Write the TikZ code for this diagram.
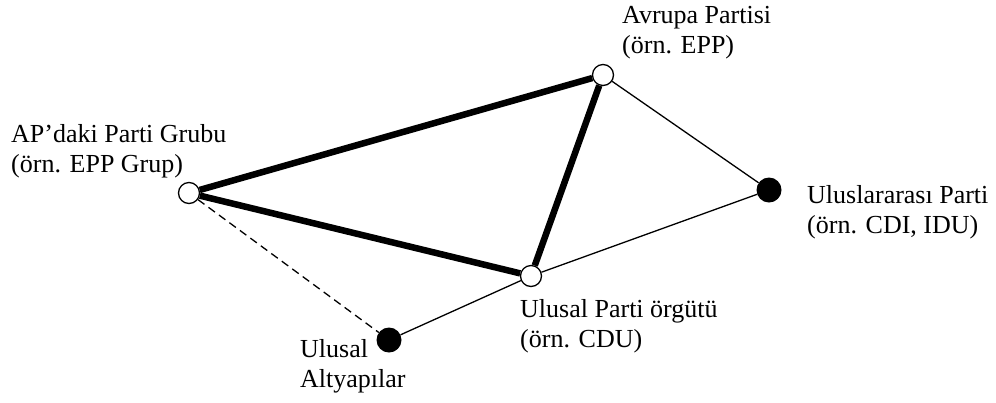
\documentclass[tikz,border=0pt]{standalone}
\usepackage{fontspec}
\setmainfont{Liberation Serif}
\usepackage{xcolor}

\begin{document}
\begin{tikzpicture}[x=1bp,y=-1bp,
  open/.style={circle,draw,fill=white,line width=1.3bp,minimum size=21bp,inner sep=0pt},
  full/.style={circle,fill=black,minimum size=25bp,inner sep=0pt},
  txt/.style={anchor=base west,align=left,inner sep=0pt,font=\fontsize{26bp}{30bp}\selectfont},
  strong/.style={line width=6.5bp},
  weak/.style={line width=1.3bp}]
\useasboundingbox (0,0) rectangle (996,402);

\node[open] (ep) at (603,75) {};
\node[open] (apg) at (189,193) {};
\node[full] (intl) at (769,190) {};
\node[open] (nat) at (531,276) {};
\node[full] (sub) at (389,340) {};

\draw[weak] (ep) -- (intl);
\draw[weak] (intl) -- (nat);
\draw[weak] (nat) -- (sub);
\draw[weak,dash pattern=on 8bp off 5bp] (apg) -- (sub);

\draw[strong] (apg) -- (ep);
\draw[strong] (apg) -- (nat);
\draw[strong] (ep) -- (nat);

% labels: base anchor sits on the last line
\node[txt] (eplab) at (622,53) {Avrupa Partisi\\(örn. EPP)};
\node[txt] (apglab) at (11,172) {AP’daki Parti Grubu\\(örn. EPP Grup)};
\node[txt] (intllab) at (807,233) {Uluslararası Parti\\(örn. CDI, IDU)};
\node[txt] (natlab) at (520,347) {Ulusal Parti örgütü\\(örn. CDU)};
\node[txt] (sublab) at (300,387) {Ulusal\\Altyapılar};
\end{tikzpicture}
\end{document}
